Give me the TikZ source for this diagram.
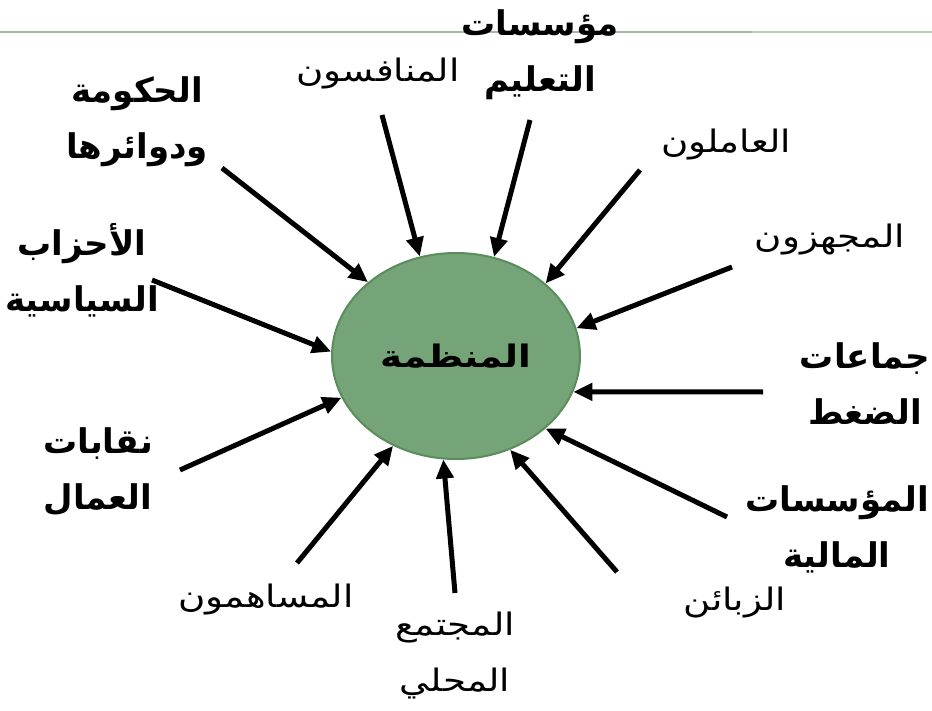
\documentclass[tikz,border=0pt]{standalone}
\usepackage{fontspec}
\usetikzlibrary{shapes.geometric,arrows.meta}
\TeXXeTstate=1
\newfontfamily\arabicfont[Script=Arabic, FakeStretch=1.2]{DejaVu Sans}
\newfontfamily\arabicbold[Script=Arabic]{DejaVu Sans}
\newcommand{\artxt}[1]{{\arabicfont\beginR #1\endR}}
\newcommand{\artxb}[1]{{\arabicbold\bfseries\beginR #1\endR}}
\definecolor{orgfill}{HTML}{74A478}
\definecolor{orgline}{HTML}{5A8C5C}
\definecolor{ruleA}{HTML}{9FBB9F}
\definecolor{ruleB}{HTML}{B9D0B9}
\tikzset{
  lbl/.style={font=\fontsize{31}{56}\selectfont, align=center, inner sep=0pt},
  lblb/.style={lbl, font=\fontsize{34}{56}\selectfont},
  push/.style={line width=5pt, -{Triangle[length=19pt,width=17pt]}},
}
\begin{document}
\begin{tikzpicture}[x=1pt,y=-1pt]
\useasboundingbox (0,0) rectangle (932,711);
% rule along the top
\draw[ruleA, line width=2pt] (0,32) -- (752,32);
\draw[ruleB, line width=2pt] (752,32) -- (932,32);

% the organisation
\node[ellipse, fill=orgfill, draw=orgline, line width=2pt,
      minimum width=248pt, minimum height=206pt, inner sep=0pt,
      font=\fontsize{31}{40}\selectfont\bfseries] (org) at (456,356) {\artxt{المنظمة}};

% surrounding parties
\node[lblb] (gov)  at (137,122) {\artxb{الحكومة}\\\artxb{ودوائرها}};
\node[lblb] (pol)  at (82,270)  {\artxb{الأحزاب}\\\artxb{السياسية}};
\node[lblb] (uni)  at (98,472)  {\artxb{نقابات}\\\artxb{العمال}};
\node[lbl]  (comp) at (378,74)  {\artxt{المنافسون}};
\node[lblb] (edu)  at (540,55)  {\artxb{مؤسسات}\\\artxb{التعليم}};
\node[lbl]  (work) at (726,145) {\artxt{العاملون}};
\node[lbl]  (supp) at (830,240) {\artxt{المجهزون}};
\node[lblb] (pres) at (865,384) {\artxb{جماعات}\\\artxb{الضغط}};
\node[lblb] (fin)  at (837,529) {\artxb{المؤسسات}\\\artxb{المالية}};
\node[lbl]  (cust) at (735,603) {\artxt{الزبائن}};
\node[lbl]  (comm) at (455,656) {\artxt{المجتمع}\\\artxt{المحلي}};
\node[lbl]  (shar) at (266,600) {\artxt{المساهمون}};

% arrow tails
\coordinate (sgov)  at (222,168);
\coordinate (scomp) at (382,115);
\coordinate (sedu)  at (530,120);
\coordinate (swork) at (640,170);
\coordinate (ssupp) at (732,267);
\coordinate (spres) at (763,392);
\coordinate (sfin)  at (727,517);
\coordinate (scust) at (617,572);
\coordinate (scomm) at (455,593);
\coordinate (sshar) at (297,563);
\coordinate (suni)  at (180,470);
\coordinate (spol)  at (152,280);

% influences pointing at the organisation
\draw[push] (sgov)  -- (org.140.6);
\draw[push] (scomp) -- (org.110.2);
\draw[push] (sedu)  -- (org.69.3);
\draw[push] (swork) -- (org.39.7);
\draw[push] (ssupp) -- (org.13.5);
\draw[push] (spres) -- (org.-17.5);
\draw[push] (sfin)  -- (org.-39.7);
\draw[push] (scust) -- (org.-60.6);
\draw[push] (scomm) -- (org.-97.1);
\draw[push] (sshar) -- (org.-125.7);
\draw[push] (suni)  -- (org.-160.6);
\draw[push] (spol)  -- (org.178.1);
\end{tikzpicture}
\end{document}
